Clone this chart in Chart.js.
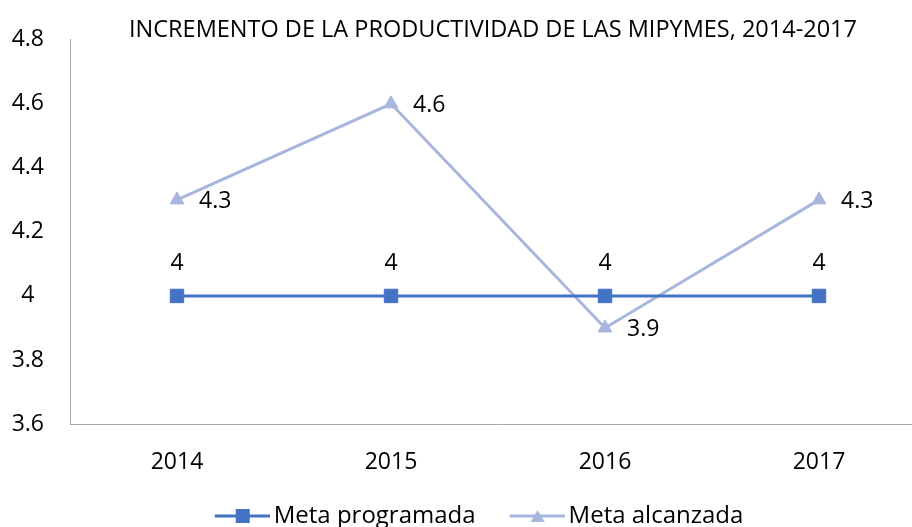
<!DOCTYPE html>
<html>
<head>
<meta charset="utf-8">
<script src="https://cdn.jsdelivr.net/npm/chart.js@4.4.1/dist/chart.umd.min.js"></script>
<style>
  html, body { margin: 0; padding: 0; background: #fff; overflow: hidden; }
  #wrap { width: 986px; height: 538px; }
</style>
</head>
<body>
<div id="wrap"><canvas id="chart"></canvas></div>
<script>
    // data
    const years = ['2014', '2015', '2016', '2017'];
    const metaProgramada = [4, 4, 4, 4];
    const metaAlcanzada = [4.3, 4.6, 3.9, 4.3];
    const yTicks = [3.6, 3.8, 4, 4.2, 4.4, 4.6, 4.8];
    const seriesNames = ['Meta programada', 'Meta alcanzada'];
    const chartTitle = 'INCREMENTO DE LA PRODUCTIVIDAD DE LAS MIPYMES, 2014-2017';

    const blue = '#4472C4'
    const light = '#A8B5DE'
    const fontFamily = '"Open Sans", sans-serif'

    // line + marker icon for the legend
    // the empty left part makes the gap between the two items,
    // the icon runs 8px past its box so the text sits close to it
    function legendIcon(color, style) {
        const c = document.createElement('canvas');
        c.width = 95;
        c.height = 16;
        const ctx = c.getContext('2d');
        ctx.strokeStyle = color;
        ctx.lineWidth = 3;
        ctx.beginPath();
        ctx.moveTo(40, 8);
        ctx.lineTo(95, 8);
        ctx.stroke();
        ctx.fillStyle = color;
        if (style === 'rect') {
            ctx.fillRect(61, 1, 14, 14);
        } else {
            ctx.beginPath();
            ctx.moveTo(68, 2);
            ctx.lineTo(75, 14);
            ctx.lineTo(61, 14);
            ctx.closePath();
            ctx.fill();
        }
        return c;
    }

    // title drawn by hand so it can sit next to the top of the axis
    const titlePlugin = {
        id: 'titlePlugin',
        afterDraw(chart) {
            const ctx = chart.ctx;
            ctx.save();
            ctx.font = '23.5px ' + fontFamily;
            ctx.fillStyle = '#000';
            ctx.textAlign = 'center';
            ctx.textBaseline = 'middle';
            ctx.fillText(chartTitle, 493, 30);
            ctx.restore();
        }
    };

    // value labels: above for programada, to the right for alcanzada
    const valueLabels = {
        id: 'valueLabels',
        afterDatasetsDraw(chart) {
            const ctx = chart.ctx;
            ctx.save();
            ctx.font = '23px ' + fontFamily;
            ctx.fillStyle = '#000';
            ctx.textBaseline = 'middle';
            chart.data.datasets.forEach((ds, i) => {
                const meta = chart.getDatasetMeta(i);
                meta.data.forEach((pt, j) => {
                    const v = String(ds.data[j]);
                    if (i === 0) {
                        ctx.textAlign = 'center';
                        ctx.fillText(v, pt.x, pt.y - 32);
                    } else {
                        ctx.textAlign = 'left';
                        ctx.fillText(v, pt.x + 22, pt.y + 2);
                    }
                });
            });
            ctx.restore();
        }
    };

    const ctx = document.getElementById('chart');

    const chart = new Chart(ctx, {
        type: 'line',
        data: {
            labels: years,
            datasets: [{
                label: seriesNames[0],
                data: metaProgramada,
                borderColor: blue,
                backgroundColor: blue,
                borderWidth: 3,
                pointStyle: 'rect',
                pointRadius: 9.5,
                pointBorderWidth: 1,
                tension: 0
            }, {
                label: seriesNames[1],
                data: metaAlcanzada,
                borderColor: light,
                backgroundColor: light,
                borderWidth: 3,
                pointStyle: 'triangle',
                pointRadius: 8,
                pointBorderWidth: 1,
                tension: 0
            }]
        },
        options: {
            responsive: true,
            maintainAspectRatio: false,
            animation: false,
            layout: {
                padding: { top: 35, left: 0, right: 60, bottom: 0 }
            },
            plugins: {
                title: { display: false },
                tooltip: { enabled: false },
                legend: {
                    position: 'bottom',
                    labels: {
                        usePointStyle: true,
                        pointStyleWidth: 79,
                        padding: 2,
                        color: '#000',
                        font: { family: fontFamily, size: 24, lineHeight: 1 },
                        generateLabels(chart) {
                            return chart.data.datasets.map((ds, i) => ({
                                text: ds.label,
                                datasetIndex: i,
                                pointStyle: legendIcon(ds.borderColor, ds.pointStyle),
                                fillStyle: ds.borderColor,
                                strokeStyle: ds.borderColor,
                                lineWidth: 0,
                                fontColor: '#000'
                            }));
                        }
                    }
                }
            },
            scales: {
                x: {
                    offset: true,
                    grid: { display: false, drawTicks: false },
                    border: { color: '#A6A6A6', width: 1 },
                    ticks: {
                        color: '#000',
                        padding: 25,
                        font: { family: fontFamily, size: 23 }
                    },
                    afterFit(scale) { scale.height = 78; }
                },
                y: {
                    min: 3.6,
                    max: 4.8,
                    grid: { display: false, drawTicks: false },
                    border: { color: '#A6A6A6', width: 1 },
                    afterBuildTicks(scale) {
                        scale.ticks = yTicks.map(v => ({ value: v }));
                    },
                    ticks: {
                        color: '#000',
                        crossAlign: 'center',
                        padding: 26,
                        font: { family: fontFamily, size: 23 },
                        callback: v => String(v)
                    },
                    afterFit(scale) { scale.width = 70; }
                }
            }
        },
        plugins: [valueLabels, titlePlugin]
    });
</script>
</body>
</html>
